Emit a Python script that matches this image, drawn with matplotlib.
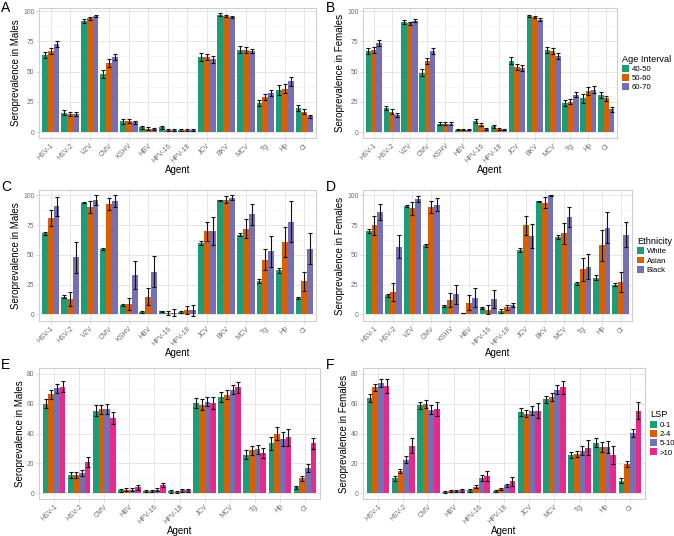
import numpy as np
import matplotlib
matplotlib.use("Agg")
import matplotlib.pyplot as plt

plt.rcParams["font.family"] = ["Liberation Sans", "DejaVu Sans"]

# Agents
agents_all = ["HSV-1", "HSV-2", "VZV", "CMV", "KSHV", "HBV", "HPV-16", "HPV-18",
              "JCV", "BKV", "MCV", "Tg", "Hp", "Ct"]
agents_lsp = ["HSV-1", "HSV-2", "CMV", "HBV", "HPV-16", "HPV-18",
              "JCV", "MCV", "Tg", "Hp", "Ct"]

age_groups = ["40-50", "50-60", "60-70"]
eth_groups = ["White", "Asian", "Black"]
lsp_groups = ["0-1", "2-4", "5-10", ">10"]

# A: males by age
male_age = [
    [64, 16, 92, 48, 9, 4, 4, 2, 62, 97, 68, 24, 35, 20],
    [67, 15, 94, 57, 9, 3, 2, 2, 62, 96, 68, 29, 36, 17],
    [73, 15, 96, 62, 8, 3, 2, 2, 60, 95, 67, 32, 42, 13],
]
male_age_err = [
    [2.5, 2, 1.5, 3, 2, 1.2, 1.2, 0.8, 3, 1, 3, 2.5, 4, 2.5],
    [2.5, 2, 1.2, 3, 1.8, 1, 0.8, 0.8, 2.5, 0.8, 2.5, 2.5, 3.5, 2],
    [2.5, 2, 1, 2.5, 1.5, 0.8, 0.8, 0.7, 2.5, 1, 2, 2.5, 3.5, 1.5],
]
# B: females by age
female_age = [
    [67, 20, 91, 49, 7, 2, 9, 5, 59, 96, 68, 24, 28, 31],
    [68, 17, 90, 59, 7, 2, 6, 3, 54, 95, 67, 25, 34, 28],
    [74, 14, 92, 67, 7, 2, 3, 2, 53, 93, 63, 31, 35, 19],
]
female_age_err = [
    [2.5, 2, 1.5, 3, 1.2, 0.6, 1.5, 1.2, 3, 1, 2.5, 2.5, 3.5, 2.5],
    [2.5, 1.8, 1.2, 2.5, 1.2, 0.6, 1.2, 0.8, 2.5, 1, 2.5, 2, 3, 2],
    [2.5, 1.5, 1.2, 2.5, 1.2, 0.6, 0.8, 0.6, 2.5, 1.2, 2.5, 2, 3, 2],
]
# C: males by ethnicity
male_eth = [
    [68, 15, 94, 55, 8, 2, 2.5, 2, 60, 96, 67, 28, 37, 14],
    [81, 13, 90, 93, 9, 15, 1, 4, 70, 96.5, 72, 46, 61, 28],
    [91, 48, 96, 95, 33, 36, 1.5, 3.5, 70, 98, 84, 53, 78, 55],
]
male_eth_err = [
    [1, 1, 0.8, 1.2, 1, 0.5, 0.5, 0.5, 1.5, 0.5, 1.5, 1.5, 2, 1],
    [7, 6, 5, 5, 5, 7, 1.5, 3.5, 8, 3, 8, 9, 12.5, 8],
    [8, 13, 4, 5, 12, 13, 3, 4.5, 12, 2, 9, 13, 17, 13],
]
# D: females by ethnicity
female_eth = [
    [70, 16, 91, 58, 7, 1.3, 5.5, 3, 54, 95, 65, 26, 31, 25],
    [75, 19, 89, 90, 12, 10, 4, 6, 75, 94, 68, 38, 58, 27],
    [86, 57, 97, 92, 17, 14, 13, 8, 66, 100, 82, 40, 73, 67],
]
female_eth_err = [
    [1.5, 1, 0.6, 1.5, 1, 0.3, 0.8, 1.5, 1.5, 0.5, 1.5, 1, 2, 1],
    [8, 7.5, 5.5, 5, 6, 6, 4, 2, 8, 4.5, 8.5, 9.5, 13, 8.5],
    [7, 10, 2.5, 5.5, 8, 8, 7.5, 2, 10, 0.3, 8.5, 10.5, 13, 10.5],
]
# E: males by LSP
male_lsp = [
    [60, 12, 55.5, 2, 1.5, 1.5, 60.5, 64.5, 26, 33.5, 4],
    [66.5, 12, 56.5, 2.5, 1.5, 1, 59.5, 66, 29, 40, 10],
    [70.5, 13.5, 56.5, 2.5, 2.5, 2, 61.5, 69.5, 29.5, 36.5, 17],
    [71.5, 21, 50.5, 4, 5.5, 2, 60.5, 71, 27, 37.5, 33.5],
]
male_lsp_err = [
    [3, 2, 4, 1, 0.5, 1, 3.5, 3.5, 3, 4.5, 1],
    [3, 2, 3, 1, 0.5, 0.5, 3.5, 3, 3, 4.5, 1.5],
    [3, 2, 3.5, 1, 1, 0.8, 3, 3, 3, 4.5, 2.5],
    [3.5, 3.5, 4, 1.5, 1.5, 0.8, 4, 3.5, 3.5, 5.5, 3.5],
]
# F: females by LSP
female_lsp = [
    [64, 10, 59, 1, 2, 1.5, 54.5, 63, 26, 34, 8.5],
    [71, 15, 60, 1.5, 4.5, 3, 53.5, 64.5, 26.5, 31, 19.5],
    [74, 22.5, 56, 1.5, 10.5, 5.5, 55.5, 69.5, 28.5, 31, 40.5],
    [72, 32, 56.5, 2, 11.5, 8, 55.5, 71, 30.5, 25.5, 55.5],
]
female_lsp_err = [
    [2.5, 1.5, 2.5, 0.5, 0.8, 0.8, 2.5, 2.5, 2, 3, 1.5],
    [2.5, 1.5, 2.5, 0.5, 1, 0.8, 2.5, 2.5, 2, 3.5, 2],
    [2.5, 2.5, 3, 0.5, 2, 1, 3, 3, 3, 4, 2.5],
    [4.5, 5, 5, 1, 3.5, 3, 5, 4.5, 5, 6, 5.5],
]

colors = ["#1B9E77", "#D95F02", "#7570B3", "#E7298A"]
W, H = 674, 536


def make_ax(fig, x0, y0, x1, y1):
    return fig.add_axes([x0 / W, 1 - y1 / H, (x1 - x0) / W, (y1 - y0) / H])


def panel(ax, agents, groups, vals, errs, ylabel, yticks, ylim, legend_title=None):
    n = len(groups)
    x = np.arange(len(agents))
    bw = 0.9 / n
    for i in range(n):
        pos = x - 0.45 + bw * (i + 0.5)
        ax.bar(pos, vals[i], width=bw, color=colors[i], label=groups[i], zorder=2)
        ax.errorbar(pos, vals[i], yerr=errs[i], fmt="none", ecolor="#111111",
                    elinewidth=0.8, capsize=1.2, capthick=0.8, zorder=3)
    ax.set_xlim(-0.6, len(agents) - 0.4)
    ax.set_ylim(*ylim)
    ax.set_yticks(yticks)
    ax.set_yticks([(a + b) / 2 for a, b in zip(yticks[:-1], yticks[1:])], minor=True)
    ax.set_xticks(x)
    ax.set_xticklabels(agents, rotation=45, ha="right", rotation_mode="anchor")
    ax.grid(True, which="major", color="#E3E3E3", linewidth=0.6, zorder=0)
    ax.grid(True, which="minor", axis="y", color="#F0F0F0", linewidth=0.4, zorder=0)
    ax.set_axisbelow(True)
    for s in ax.spines.values():
        s.set_color("#CFCFCF")
        s.set_linewidth(0.8)
    ax.tick_params(axis="both", which="major", labelcolor="#6E6E6E",
                   color="#CFCFCF", length=2, width=0.5, pad=1.2)
    ax.tick_params(axis="x", labelsize=5.0, pad=1.0)
    ax.tick_params(axis="y", labelsize=4.9)
    ax.tick_params(axis="y", which="minor", length=0)
    ax.set_xlabel("Agent", fontsize=7, labelpad=0.5)
    ax.set_ylabel(ylabel, fontsize=7, labelpad=1.5)
    if legend_title:
        leg = ax.legend(title=legend_title, loc="center left", bbox_to_anchor=(1.0, 0.5),
                        frameon=False, fontsize=5.6, title_fontsize=6.6,
                        handlelength=0.8, handleheight=1.0, handletextpad=0.4,
                        labelspacing=0.15, borderaxespad=0.3)
        leg._legend_box.align = "left"


fig = plt.figure(figsize=(W / 100, H / 100), dpi=100)

ax_a = make_ax(fig, 39, 8, 316, 138)
panel(ax_a, agents_all, age_groups, male_age, male_age_err,
      "Seroprevalence in Males", [0, 25, 50, 75, 100], (-4.8, 102.5))
ax_b = make_ax(fig, 363, 8, 617, 138)
panel(ax_b, agents_all, age_groups, female_age, female_age_err,
      "Seroprevalence in Females", [0, 25, 50, 75, 100], (-4.8, 102.5), "Age Interval")
ax_c = make_ax(fig, 39, 190, 316, 321)
panel(ax_c, agents_all, eth_groups, male_eth, male_eth_err,
      "Seroprevalence in Males", [0, 25, 50, 75, 100], (-5.5, 104.5))
ax_d = make_ax(fig, 363, 190, 632, 321)
panel(ax_d, agents_all, eth_groups, female_eth, female_eth_err,
      "Seroprevalence in Females", [0, 25, 50, 75, 100], (-5.5, 104.5), "Ethnicity")
ax_e = make_ax(fig, 39, 368, 320, 499)
panel(ax_e, agents_lsp, lsp_groups, male_lsp, male_lsp_err,
      "Seroprevalence in Males", [0, 20, 40, 60, 80], (-3.8, 84))
ax_f = make_ax(fig, 363, 368, 645, 499)
panel(ax_f, agents_lsp, lsp_groups, female_lsp, female_lsp_err,
      "Seroprevalence in Females", [0, 20, 40, 60, 80], (-3.8, 84), "LSP")

for letter, (px, py) in zip("ABCDEF", [(1, 1), (326, 1), (1, 180), (326, 180), (1, 358), (326, 358)]):
    fig.text(px / W, 1 - py / H, letter, fontsize=10, va="top", ha="left")

fig.savefig("out.png", dpi=100)
